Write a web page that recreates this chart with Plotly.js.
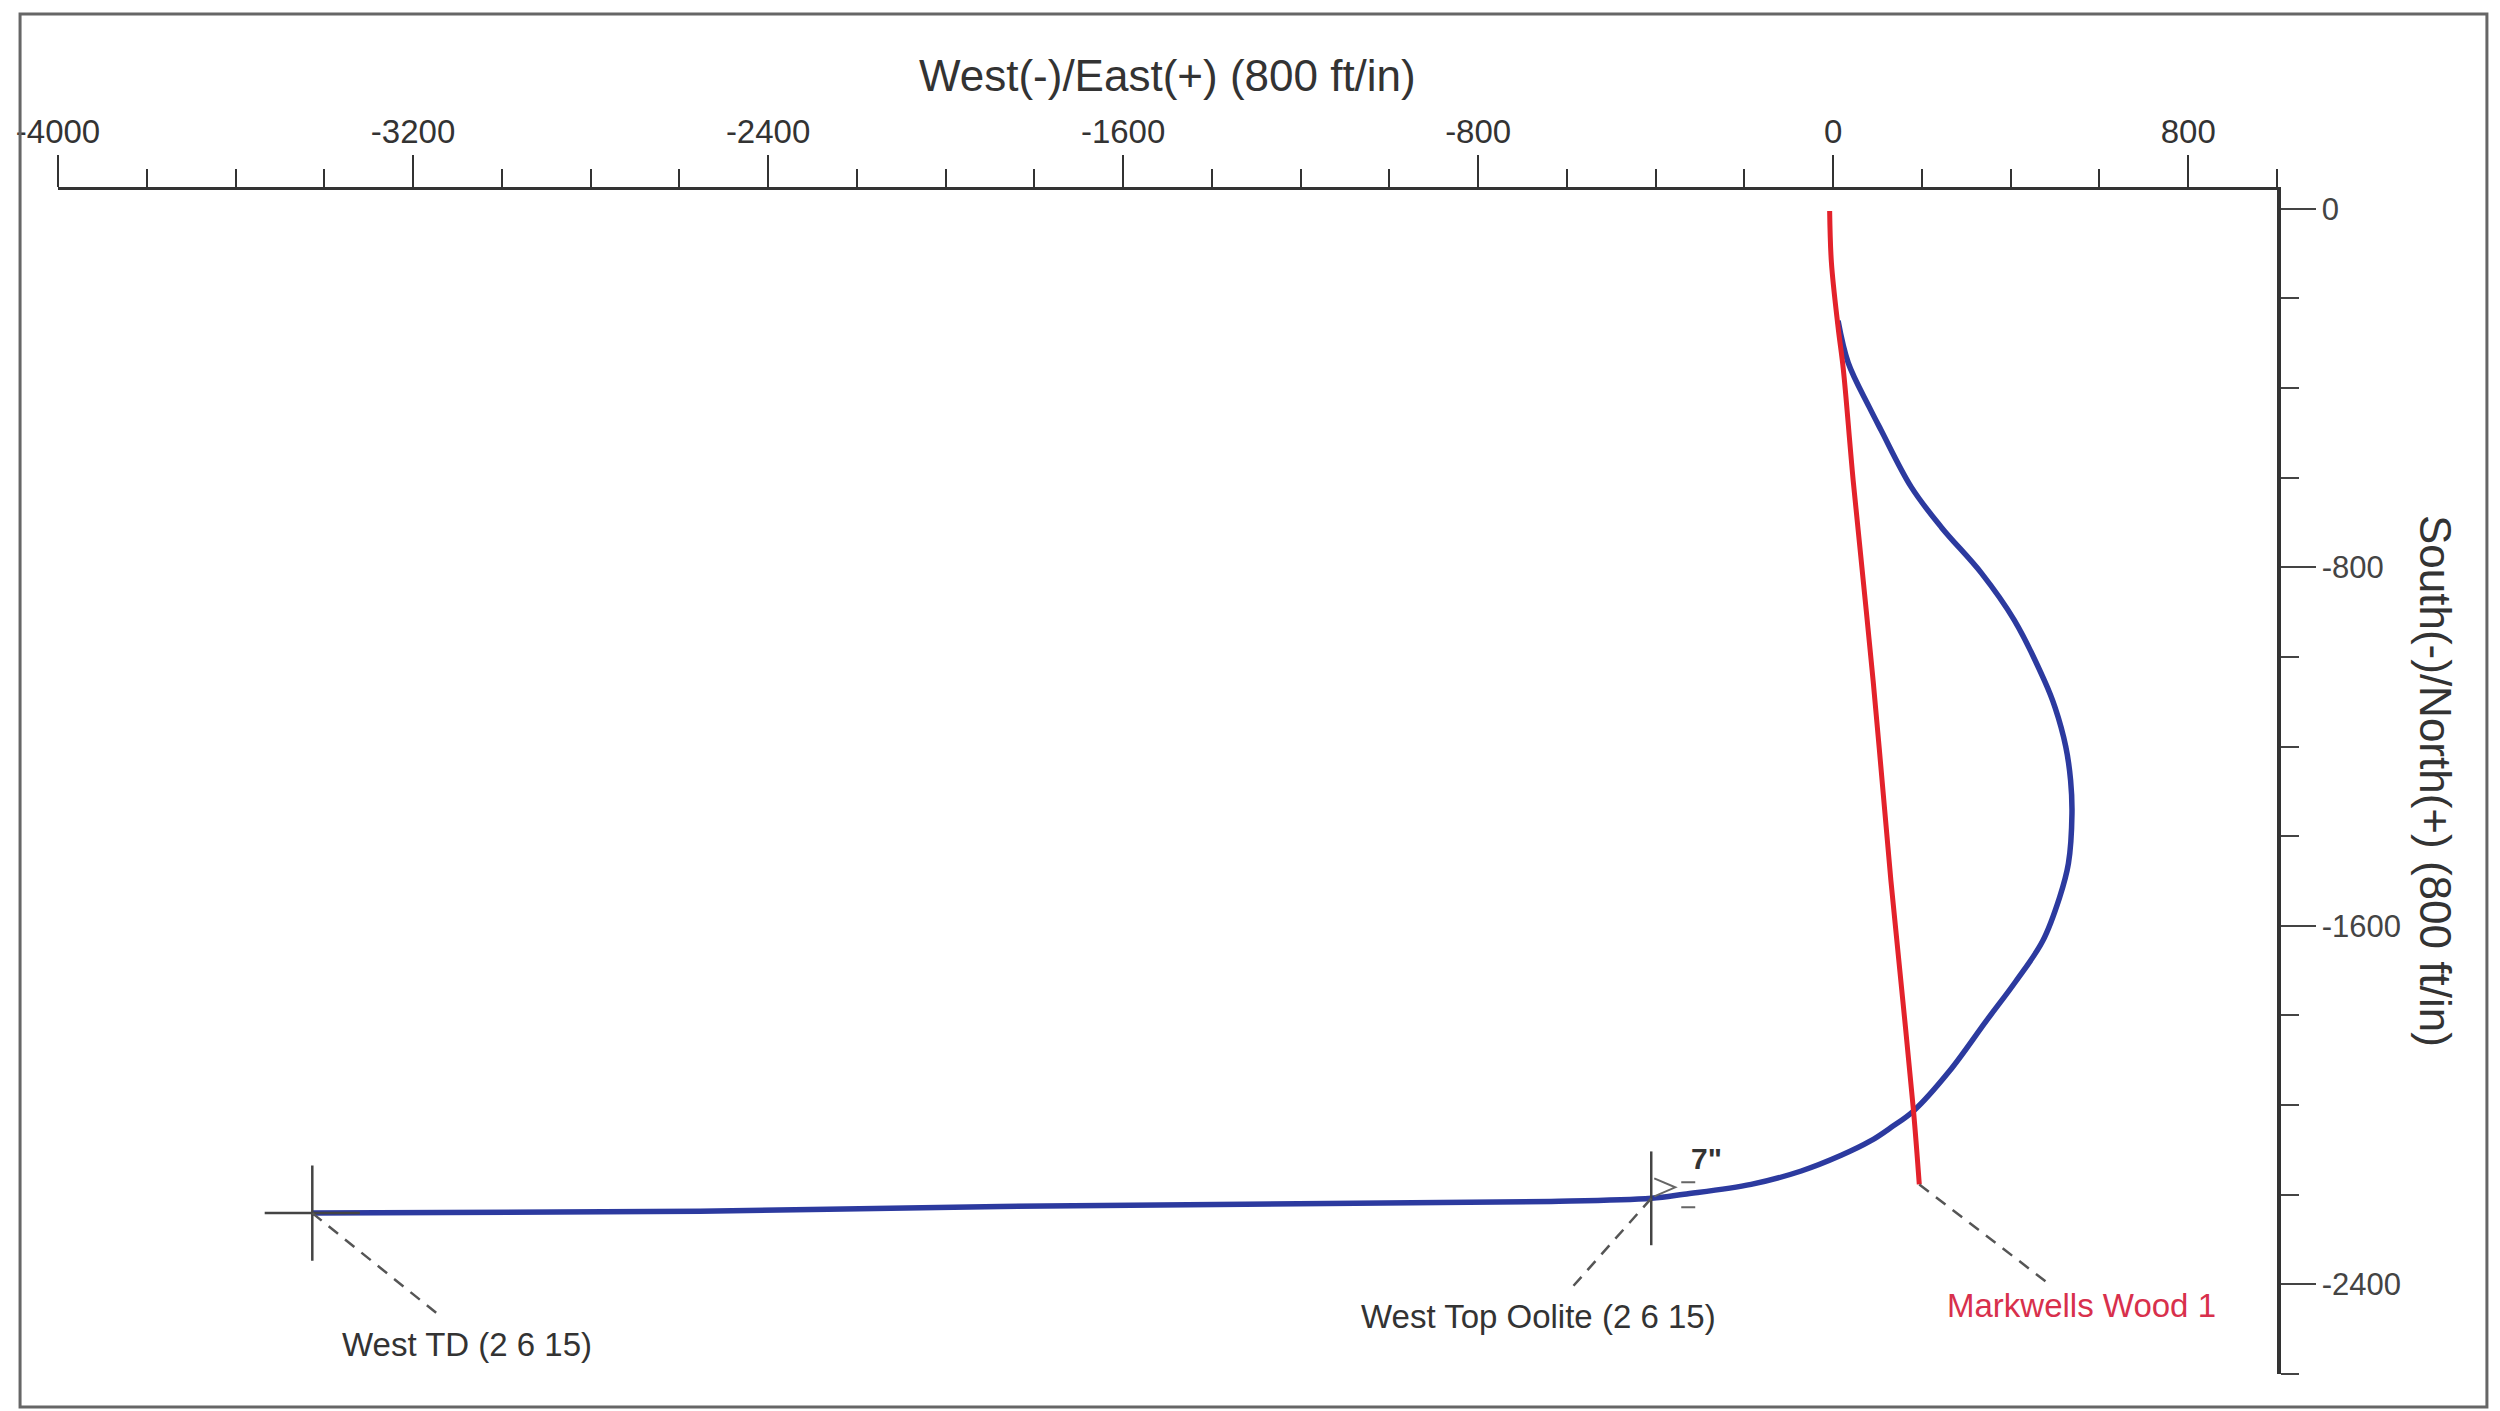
<!DOCTYPE html>
<html><head><meta charset="utf-8">
<script src="https://cdn.plot.ly/plotly-3.0.1.min.js"></script>
<style>html,body{margin:0;padding:0;background:#fff;}#chart{width:2500px;height:1411px;}</style>
</head><body><div id="chart"></div>
<script>
// Tick labels
const xTickVals = [-4000, -3200, -2400, -1600, -800, 0, 800];
const xTickText = ['-4000', '-3200', '-2400', '-1600', '-800', '0', '800'];
const yTickVals = [0, -800, -1600, -2400];
const yTickText = ['0', '-800', '-1600', '-2400'];

// Markwells Wood 1 (red) - East / North (ft)
const markwellsEast  = [-8, -4, 11, 23, 45, 90, 130, 157, 181, 194];
const markwellsNorth = [-5, -120, -264, -360, -606, -1053, -1499, -1768, -2013, -2177];

// West well (blue) - East / North (ft)
const westEast  = [11, 34, 81, 108, 176, 244, 334, 408, 476, 500, 524, 535, 538, 530, 510, 472, 412, 345, 262, 181, 130, 84, 18, -72, -185, -336, -410, -636, -1876, -2553, -3427];
const westNorth = [-250, -344, -442, -494, -621, -711, -813, -918, -1053, -1113, -1200, -1276, -1350, -1461, -1537, -1634, -1723, -1812, -1924, -2013, -2050, -2080, -2112, -2147, -2177, -2199, -2208, -2215, -2226, -2237, -2241];

// Named survey markers
const markerNames = ['West Top Oolite (2 6 15)', 'West TD (2 6 15)'];
const markerEast  = [-410, -3427];
const markerNorth = [-2208, -2241];
const casingLabel = '7"';
const wellName = 'Markwells Wood 1';

const FONT = 'Liberation Sans, Arial, Helvetica, sans-serif';
const GREY = '#444444';
const RED = '#e3222b';
const BLUE = '#2c3a9f';

const traces = [
  {x: westEast, y: westNorth, type: 'scatter', mode: 'lines',
   line: {color: BLUE, width: 5.5, shape: 'spline', smoothing: 1.0}, hoverinfo: 'skip'},
  {x: markwellsEast, y: markwellsNorth, type: 'scatter', mode: 'lines',
   line: {color: RED, width: 5, shape: 'spline', smoothing: 1.0}, hoverinfo: 'skip'},
  {x: [markerEast[1]], y: [markerNorth[1]], type: 'scatter', mode: 'markers',
   marker: {symbol: 'cross-thin-open', size: 68, color: GREY, line: {width: 2.5, color: GREY}}, hoverinfo: 'skip'},
  {x: [markerEast[0]], y: [markerNorth[0]], type: 'scatter', mode: 'markers',
   marker: {symbol: 'line-ns-open', size: 67, color: GREY, line: {width: 2.5, color: GREY}}, hoverinfo: 'skip'}
];

const lastR = markwellsEast.length - 1;
function leader(x, y, dx, dy) {
  return {type: 'line', xref: 'x', yref: 'y', xsizemode: 'pixel', ysizemode: 'pixel',
    xanchor: x, yanchor: y, x0: 0, y0: 0, x1: dx, y1: dy,
    line: {color: '#555555', width: 2.5, dash: '12px,9px'}};
}

const shapes = [
  {type: 'rect', xref: 'paper', yref: 'paper', x0: -0.0171, x1: 1.0946, y0: -0.0279, y1: 1.1486,
   line: {color: '#666666', width: 3}},
  leader(markerEast[1], markerNorth[1], 128, -103),
  leader(markerEast[0], markerNorth[0], -80, -90),
  leader(markwellsEast[lastR], markwellsNorth[lastR], 133, -102),
  {type: 'path', xref: 'x', yref: 'y', xsizemode: 'pixel', ysizemode: 'pixel',
   xanchor: markerEast[0], yanchor: markerNorth[0],
   path: 'M3,20 L24,11 L3,2 M30,16 L44,16 M30,-9 L44,-9',
   line: {color: '#666666', width: 2}}
];

const annFont = {family: FONT, size: 33, color: '#333333'};
const annotations = [
  {xref: 'paper', yref: 'paper', x: 0.5, y: 1.0971, xanchor: 'center', yanchor: 'middle',
   text: 'West(-)/East(+) (800 ft/in)', showarrow: false, font: {family: FONT, size: 44, color: '#333333'}},
  {xref: 'paper', yref: 'paper', x: 1.0717, y: 0.5008, xanchor: 'center', yanchor: 'middle',
   text: 'South(-)/North(+) (800 ft/in)', textangle: 90, showarrow: false,
   font: {family: FONT, size: 44, color: '#333333'}},
  {x: markerEast[1], y: markerNorth[1], xshift: 155, yshift: -131, xanchor: 'center', yanchor: 'middle',
   text: markerNames[1], showarrow: false, font: annFont},
  {x: markerEast[0], y: markerNorth[0], xshift: -113, yshift: -118, xanchor: 'center', yanchor: 'middle',
   text: markerNames[0], showarrow: false, font: annFont},
  {x: markerEast[0], y: markerNorth[0], xshift: 55, yshift: 40, xanchor: 'center', yanchor: 'middle',
   text: '<b>' + casingLabel + '</b>', showarrow: false, font: {family: FONT, size: 30, color: '#333333'}},
  {x: markwellsEast[lastR], y: markwellsNorth[lastR], xshift: 162, yshift: -121, xanchor: 'center', yanchor: 'middle',
   text: wellName, showarrow: false, font: {family: FONT, size: 33, color: '#d8304c'}}
];

const layout = {
  width: 2500, height: 1411,
  margin: {l: 58, r: 223, t: 190, b: 37, pad: 0},
  paper_bgcolor: '#ffffff', plot_bgcolor: '#ffffff',
  showlegend: false,
  font: {family: FONT, color: '#333333'},
  xaxis: {
    side: 'top', range: [-4000, 1000], showgrid: false, zeroline: false,
    showline: true, linecolor: '#333333', linewidth: 3.5,
    tickmode: 'array', tickvals: xTickVals, ticktext: xTickText,
    ticks: 'outside', ticklen: 32, tickwidth: 2.5, tickcolor: '#333333',
    ticklabelstandoff: -2,
    tickfont: {family: FONT, size: 33, color: '#333333'},
    minor: {tickmode: 'linear', tick0: 0, dtick: 200, ticks: 'outside', ticklen: 18, tickwidth: 2, tickcolor: '#333333', showgrid: false}
  },
  yaxis: {
    side: 'right', range: [-2600, 42], showgrid: false, zeroline: false,
    showline: true, linecolor: '#333333', linewidth: 3.5,
    tickmode: 'array', tickvals: yTickVals, ticktext: yTickText,
    ticks: 'outside', ticklen: 35, tickwidth: 2, tickcolor: '#444444',
    tickfont: {family: FONT, size: 31, color: '#444444'},
    minor: {tickmode: 'linear', tick0: 0, dtick: 200, ticks: 'outside', ticklen: 18, tickwidth: 2, tickcolor: '#444444', showgrid: false}
  },
  shapes: shapes,
  annotations: annotations
};

Plotly.newPlot('chart', traces, layout, {staticPlot: true, displayModeBar: false});
</script>
</body></html>
